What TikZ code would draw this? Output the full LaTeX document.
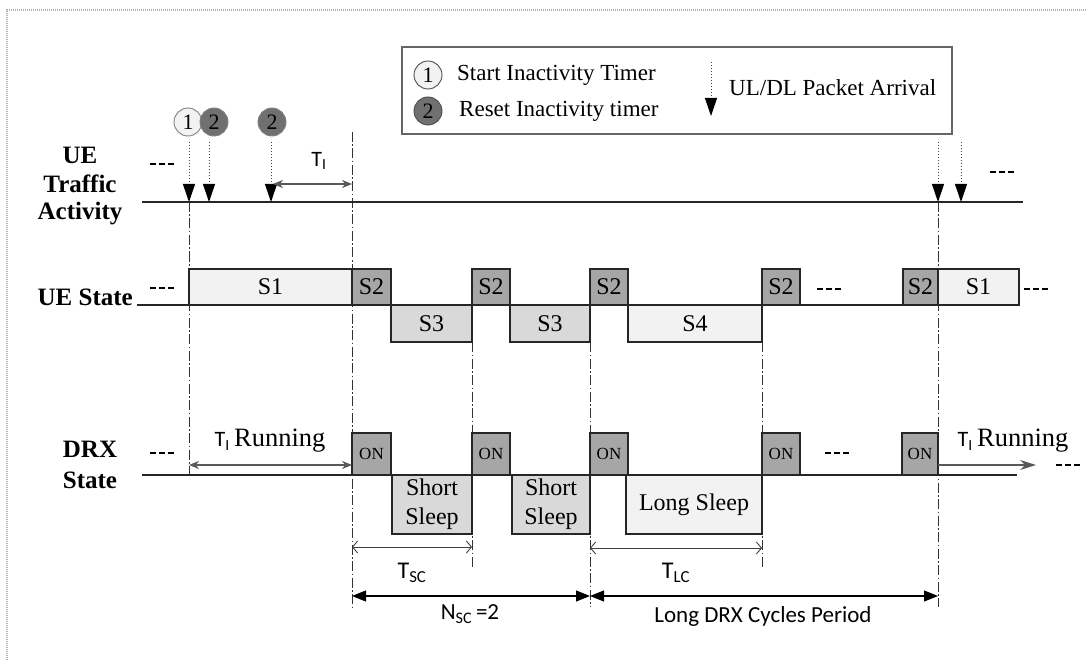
\documentclass[tikz,border=0pt]{standalone}
\usepackage{fontspec}
\setmainfont{Liberation Serif}
\newfontfamily\sansf{Carlito}
\usetikzlibrary{arrows.meta}
\newcommand\myfs[1]{\fontsize{#1}{#1}\selectfont}
\definecolor{lightC}{HTML}{F2F2F2}
\definecolor{darkC}{HTML}{A6A6A6}
\definecolor{midC}{HTML}{D9D9D9}
\definecolor{circC}{HTML}{707070}
\newcommand\bx[7]{\node[#6, minimum width={(#4-#2)*1pt}, minimum height={(#5-#3)*1pt}] (#1) at ({(#2+#4)/2},{(#3+#5)/2}) {#7};}
\begin{document}
\begin{tikzpicture}[x=1pt,y=-1pt,
  frame/.style={draw=gray!60, line width=1.6pt, dash pattern=on 1pt off 1pt},
  boxbase/.style={draw=black!85, line width=1.1pt, inner sep=0pt, outer sep=0pt, font=\myfs{24}},
  lbox/.style={boxbase, fill=lightC},
  dbox/.style={boxbase, fill=darkC},
  mbox/.style={boxbase, fill=midC},
  onbox/.style={boxbase, fill=darkC, font=\myfs{17}},
  sleepbox/.style={boxbase, fill=midC, align=center, font=\fontsize{24}{29}\selectfont},
  axis/.style={draw=black!85, line width=1.2pt},
  vdash/.style={draw=black!80, line width=0.9pt, dash pattern=on 10pt off 2.5pt on 1.5pt off 2.5pt},
  pkt/.style={draw=black!75, line width=1pt, dotted, -{Triangle[width=12pt,length=18pt,black]}},
  gap/.style={draw=black, line width=2.2pt, dash pattern=on 6pt off 3pt},
  tiarrow/.style={draw=black!65, line width=1.1pt, {Stealth[length=10pt,width=8pt]}-{Stealth[length=10pt,width=8pt]}},
  tcarrow/.style={draw=black!75, line width=0.9pt, {Straight Barb[length=5pt,width=12pt]}-{Straight Barb[length=5pt,width=12pt]}},
  bigarrow/.style={draw=black, line width=1.1pt, {Triangle[length=14pt,width=11pt]}-{Triangle[length=14pt,width=11pt]}},
  lab/.style={font=\bfseries\myfs{25}, inner sep=0pt},
  ctxt/.style={font=\myfs{23}, inner sep=0pt},
  sans/.style={font=\sansf\myfs{23}, inner sep=0pt},
  cone/.style={circle, draw=black!70, line width=0.9pt, fill=lightC, minimum size=28pt, inner sep=0pt, font=\myfs{22}},
  ctwo/.style={circle, draw=black!70, line width=0.9pt, fill=circC, minimum size=28pt, inner sep=0pt, font=\myfs{22}}
]
\useasboundingbox (0,0) rectangle (1086,660);
\fill[white] (0,0) rectangle (1086,660);
% frame
\coordinate (bTL) at (7,10); \coordinate (bTR) at (1086,10); \coordinate (bBL) at (7,660);
\draw[frame] (bTR) -- (bTL) -- (bBL);

% legend
\node[draw=gray!80!black, line width=1.2pt, minimum width=550pt, minimum height=87pt, inner sep=0pt] (legend) at (677,90.5) {};
\node[cone] (lc1) at (428,75) {1};
\node[ctwo] (lc2) at (428,111) {2};
\node[ctxt, anchor=west] (lt1) at (457,75) {Start Inactivity Timer};
\node[ctxt, anchor=west] (lt2) at (459,111) {Reset Inactivity timer};
\coordinate (lps) at (711,62); \coordinate (lpe) at (711,116);
\draw[pkt] (lps) -- (lpe);
\node[ctxt, anchor=west] (lt3) at (729,88) {UL/DL Packet Arrival};

% left labels
\node[lab] (l1) at (80,155) {UE};
\node[lab] (l2) at (80,184) {Traffic};
\node[lab] (l3) at (80,214) {Activity};
\node[lab, anchor=base east] (l4) at (133,305) {UE State};
\node[lab] (l5) at (90,449) {DRX};
\node[lab] (l6) at (90,480) {State};

% gaps "---"
\coordinate (g1a) at (150,164); \coordinate (g1b) at (175,164); \draw[gap] (g1a) -- (g1b);
\coordinate (g2a) at (150,288); \coordinate (g2b) at (175,288); \draw[gap] (g2a) -- (g2b);
\coordinate (g3a) at (150,453); \coordinate (g3b) at (175,453); \draw[gap] (g3a) -- (g3b);
\coordinate (g4a) at (990,172); \coordinate (g4b) at (1015,172); \draw[gap] (g4a) -- (g4b);
\coordinate (g5a) at (817,289); \coordinate (g5b) at (842,289); \draw[gap] (g5a) -- (g5b);
\coordinate (g6a) at (1024,289); \coordinate (g6b) at (1049,289); \draw[gap] (g6a) -- (g6b);
\coordinate (g7a) at (825,453); \coordinate (g7b) at (850,453); \draw[gap] (g7a) -- (g7b);
\coordinate (g8a) at (1056,465); \coordinate (g8b) at (1081,465); \draw[gap] (g8a) -- (g8b);

% vertical dashed guide lines
\coordinate (v1a) at (189,202); \coordinate (v1b) at (189,475); \draw[vdash] (v1a) -- (v1b);
\coordinate (v2a) at (352,132); \coordinate (v2b) at (352,607); \draw[vdash] (v2a) -- (v2b);
\coordinate (v3a) at (472,342); \coordinate (v3b) at (472,567); \draw[vdash] (v3a) -- (v3b);
\coordinate (v4a) at (590,342); \coordinate (v4b) at (590,607); \draw[vdash] (v4a) -- (v4b);
\coordinate (v5a) at (762,342); \coordinate (v5b) at (762,567); \draw[vdash] (v5a) -- (v5b);
\coordinate (v6a) at (938,202); \coordinate (v6b) at (938,607); \draw[vdash] (v6a) -- (v6b);

% traffic line
\coordinate (tl0) at (142,202); \coordinate (tl1) at (1023,202);
\draw[axis] (tl0) -- (tl1);
% circles
\node[cone, draw=black!50] (c1) at (188,122) {1};
\node[ctwo, draw=black!50] (c2) at (214,122) {2};
\node[ctwo, draw=black!50] (c3) at (272,122) {2};
% packet arrivals
\coordinate (p1s) at (189,142); \coordinate (p1e) at (189,202); \draw[pkt] (p1s) -- (p1e);
\coordinate (p2s) at (209,142); \coordinate (p2e) at (209,202); \draw[pkt] (p2s) -- (p2e);
\coordinate (p3s) at (271,142); \coordinate (p3e) at (271,202); \draw[pkt] (p3s) -- (p3e);
\coordinate (p4s) at (938,142); \coordinate (p4e) at (938,202); \draw[pkt] (p4s) -- (p4e);
\coordinate (p5s) at (961,142); \coordinate (p5e) at (961,202); \draw[pkt] (p5s) -- (p5e);
% T_I
\coordinate (ti0) at (273,184); \coordinate (ti1) at (352,184);
\draw[tiarrow] (ti0) -- (ti1);
\node[font=\sansf\myfs{22}, inner sep=0pt] (tilab) at (319,161) {T\textsubscript{I}};

% UE state
\coordinate (ub0) at (137,305); \coordinate (ub1) at (189,305);
\draw[axis] (ub0) -- (ub1);
\coordinate (ub2) at (800,305); \coordinate (ub3) at (903,305);
\draw[axis] (ub2) -- (ub3);
\bx{us1}{189}{269}{352}{305}{lbox}{S1}
\bx{us2}{352}{269}{391}{305}{dbox}{S2}
\bx{us3}{391}{305}{472}{342}{mbox}{S3}
\bx{us4}{472}{269}{510}{305}{dbox}{S2}
\bx{us5}{510}{305}{590}{342}{mbox}{S3}
\bx{us6}{590}{269}{628}{305}{dbox}{S2}
\bx{us7}{628}{305}{762}{342}{lbox}{S4}
\bx{us8}{762}{269}{800}{305}{dbox}{S2}
\bx{us9}{903}{269}{938}{305}{dbox}{S2}
\bx{us10}{938}{269}{1019}{305}{lbox}{S1}

% DRX state
\coordinate (db0) at (142,475); \coordinate (db1) at (1017,475);
\draw[axis] (db0) -- (db1);
\bx{on1}{352}{433}{391}{475}{onbox}{ON}
\bx{ss1}{392}{475}{472}{534}{sleepbox}{Short\\Sleep}
\bx{on2}{472}{433}{510}{475}{onbox}{ON}
\bx{ss2}{512}{475}{590}{534}{sleepbox}{Short\\Sleep}
\bx{on3}{590}{433}{628}{475}{onbox}{ON}
\bx{ls1}{626}{475}{762}{534}{sleepbox, fill=lightC}{Long Sleep}
\bx{on4}{762}{433}{800}{475}{onbox}{ON}
\bx{on5}{902}{433}{938}{475}{onbox}{ON}

% T_I running
\coordinate (tr0) at (189,465); \coordinate (tr1) at (352,465);
\draw[tiarrow] (tr0) -- (tr1);
\node[font=\myfs{26.5}, inner sep=0pt] (trlab) at (270,441) {{\sansf\myfs{22}T\textsubscript{I}}\,Running};
\coordinate (tr2) at (938,465); \coordinate (tr3) at (1036,465);
\draw[draw=black!65, line width=1.1pt, -{Stealth[length=16pt,width=10pt]}] (tr2) -- (tr3);
\node[font=\myfs{26.5}, inner sep=0pt] (trlab2) at (1013,441) {{\sansf\myfs{22}T\textsubscript{I}}\,Running};

% T_SC, T_LC
\coordinate (tsc0) at (352,547); \coordinate (tsc1) at (472,547);
\draw[tcarrow] (tsc0) -- (tsc1);
\node[sans, font=\sansf\myfs{24}] (tsclab) at (412,573) {T\textsubscript{SC}};
\coordinate (tlc0) at (590,548); \coordinate (tlc1) at (762,548);
\draw[tcarrow] (tlc0) -- (tlc1);
\node[sans, font=\sansf\myfs{24}] (tlclab) at (676,573) {T\textsubscript{LC}};

% N_SC and long DRX period
\coordinate (n0) at (352,596); \coordinate (n1) at (590,596); \coordinate (n2) at (938,596);
\draw[bigarrow] (n0) -- (n1);
\draw[bigarrow] (n1) -- (n2);
\node[sans] (nsclab) at (470,614) {N\textsubscript{SC}\,=2};
\node[sans] (ldlab) at (763,616) {Long DRX Cycles Period};
\end{tikzpicture}
\end{document}
